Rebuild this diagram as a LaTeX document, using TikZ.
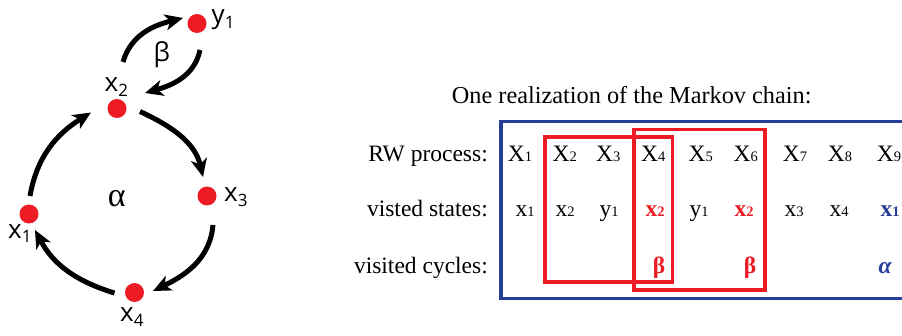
\documentclass[tikz,border=0pt]{standalone}
\usepackage{fontspec}
\setmainfont{Liberation Serif}
\newfontfamily\lblfont{Open Sans}
\usetikzlibrary{arrows.meta,calc}
\definecolor{dotred}{RGB}{237,28,36}
\definecolor{boxblue}{RGB}{38,62,152}
% index written small, sitting on the baseline
\newcommand{\idx}[2]{#1{\fontsize{14.5}{14.5}\selectfont #2}}
% graph label with lowered subscript
\newcommand{\glab}[2]{#1{\fontsize{17}{17}\selectfont\raisebox{-4.5pt}{#2}}}
\begin{document}
\begin{tikzpicture}[x=1pt,y=1pt,
  state/.style={circle, fill=dotred, inner sep=0pt, minimum size=19pt},
  lbl/.style={inner sep=0pt, font=\lblfont\fontsize{26}{26}\selectfont},
  cyc/.style={line width=5pt, -{Stealth[length=18pt,width=16pt,inset=5pt]}},
  rowlbl/.style={anchor=base east, inner sep=0pt, font=\fontsize{23.5}{28}\selectfont},
  cell/.style={anchor=base, inner sep=0pt, font=\fontsize{23.5}{28}\selectfont},
  redbox/.style={draw=dotred, line width=3.3pt},
  bluebox/.style={draw=boxblue, line width=3.3pt},
]
\useasboundingbox (0,0) rectangle (902,335);
\clip (0,0) rectangle (902,335);

% ---- state graph ----
\node[state] (x1) at (29,121) {};
\node[state] (x2) at (117,226.5) {};
\node[state] (x3) at (207,139) {};
\node[state] (x4) at (134.5,42.5) {};
\node[state] (y1) at (197,311.5) {};

\node[lbl, anchor=base west] (lx1) at (8,96.7) {\glab{x}{1}};
\node[lbl, anchor=base west] (lx2) at (104.5,243.3) {\glab{x}{2}};
\node[lbl, anchor=base west] (lx3) at (224,133.3) {\glab{x}{3}};
\node[lbl, anchor=base west] (lx4) at (120,13.3) {\glab{x}{4}};
\node[lbl, anchor=base west] (ly1) at (211.5,311) {\glab{y}{1}};
\node[lbl] (beta) at (161.7,280) {β};
\node[inner sep=0pt, font=\fontsize{34}{34}\selectfont] (alpha) at (116.7,136.3) {α};

% cycle alpha
\draw[cyc] ($(x1)+(1,18)$) to[out=80,in=212] ($(x2)+(-26,-4)$);
\draw[cyc] ($(x2)+(23,-3)$) to[out=-25,in=103] ($(x3)+(-4,19)$);
\draw[cyc] ($(x3)+(6,-29)$) to[out=-95,in=26] ($(x4)+(18.5,1.5)$);
\draw[cyc] ($(x4)+(-20,-0.5)$) to[out=163,in=-62] ($(x1)+(6,-16)$);
% cycle beta
\draw[cyc] ($(x2)+(6,46.5)$) to[out=74,in=194] ($(y1)+(-14,5.5)$);
\draw[cyc] ($(y1)+(3,-26.5)$) to[out=-102,in=16] ($(x2)+(28,15.5)$);

% ---- realization table ----
\node[anchor=base, inner sep=0pt, font=\fontsize{24.3}{29}\selectfont] (title) at (631.7,231)
  {One realization of the Markov chain:};

\draw[bluebox] (501,36.7) rectangle (910,213.8);
\draw[redbox] (545,53) rectangle (672.5,198);
\draw[redbox] (634,45) rectangle (765,205.7);

\node[rowlbl] (r1) at (488,173.3) {RW process:};
\node[rowlbl] (r2) at (488,118) {visted states:};
\node[rowlbl] (r3) at (488,61.5) {visited cycles:};

\foreach \n/\x in {1/520,2/564.8,3/608.3,4/653.2,5/700.7,6/745.8,7/795,8/840,9/889}
  \node[cell] (p\n) at (\x,173.3) {\idx{X}{\n}};

\node[cell] (s1) at (525,118) {\idx{x}{1}};
\node[cell] (s2) at (565,118) {\idx{x}{2}};
\node[cell] (s3) at (609,118) {\idx{y}{1}};
\node[cell, text=dotred, font=\fontsize{23.5}{28}\selectfont\bfseries] (s4) at (655,118) {\idx{x}{2}};
\node[cell] (s5) at (699,118) {\idx{y}{1}};
\node[cell, text=dotred, font=\fontsize{23.5}{28}\selectfont\bfseries] (s6) at (744,118) {\idx{x}{2}};
\node[cell] (s7) at (794,118) {\idx{x}{3}};
\node[cell] (s8) at (839,118) {\idx{x}{4}};
\node[cell, text=boxblue, font=\fontsize{23.5}{28}\selectfont\bfseries] (s9) at (890,118) {\idx{x}{1}};

\node[cell, text=dotred, font=\fontsize{23.5}{28}\selectfont\bfseries] (c4) at (659,62) {β};
\node[cell, text=dotred, font=\fontsize{23.5}{28}\selectfont\bfseries] (c6) at (750,62) {β};
\node[cell, text=boxblue, font=\fontsize{23.5}{28}\selectfont\bfseries\itshape] (c9) at (885,62) {α};
\end{tikzpicture}
\end{document}
